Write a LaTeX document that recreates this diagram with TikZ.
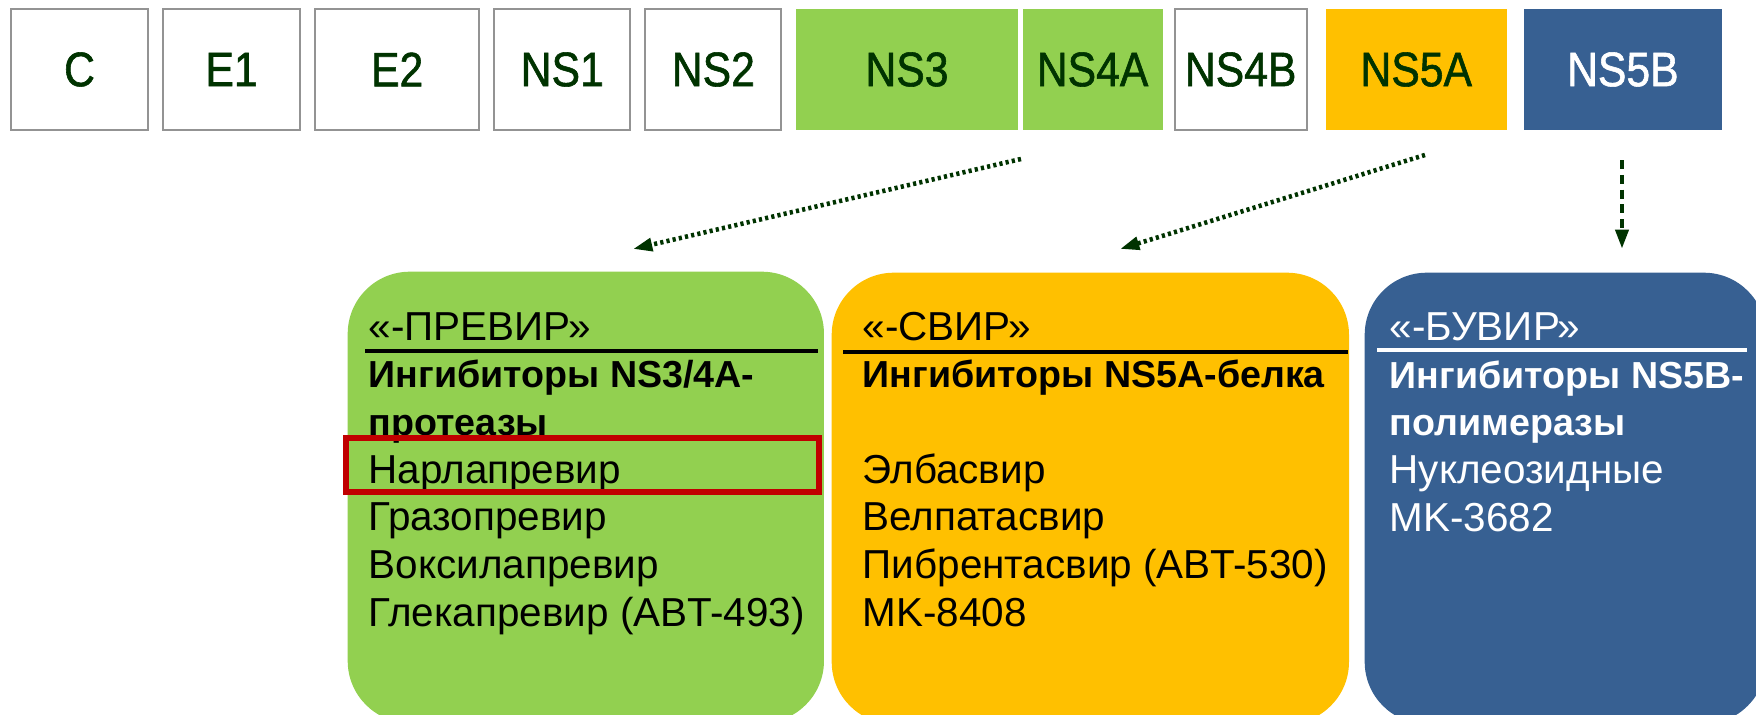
\documentclass[tikz,border=0pt]{standalone}
\usepackage{fontspec}
\setmainfont{Liberation Sans}
\newfontfamily\narrowfont[FakeStretch=0.88, FakeBold=1.2]{Liberation Sans}
\usetikzlibrary{positioning,arrows.meta}
\definecolor{leaf}{RGB}{146,208,80}
\definecolor{amber}{RGB}{255,192,0}
\definecolor{navy}{RGB}{55,96,146}
\definecolor{moss}{RGB}{0,51,0}
\definecolor{crimson}{RGB}{192,0,0}
\newcommand{\classhead}[1]{{\fontsize{10.7}{13.55}\selectfont\bfseries #1}}

\begin{document}
\begin{tikzpicture}[x=0.01cm, y=-0.01cm, node distance=0.15cm,
    gene/.style = {draw=gray!85, line width=0.6pt, fill=white, text=moss, minimum height=1.21cm, inner sep=0pt, outer sep=0pt, font=\narrowfont\fontsize{13.8}{15}\selectfont},
    family/.style = {rounded corners=0.62cm, minimum height=4.51cm, inner sep=0pt, anchor=north west},
    druglist/.style = {anchor=base west, align=left, inner sep=0pt, font=\fontsize{11.5}{13.55}\selectfont},
    rule/.style = {line width=1.1pt},
    pointer/.style = {moss, line width=1.3pt, dash pattern=on 0.9pt off 0.9pt, -{Triangle[length=5.5pt, width=3.6pt]}}]
    \useasboundingbox (0,0) rectangle (1756,715);
    \clip (0,0) rectangle (1756,715);
    % genome
    \node[gene, minimum width=1.37cm] (C) at (79.5,69.5) {C};
    \node[gene, minimum width=1.37cm, right=of C] (E1) {E1};
    \node[gene, minimum width=1.64cm, right=of E1] (E2) {E2};
    \node[gene, minimum width=1.36cm, right=of E2] (NS1) {NS1};
    \node[gene, minimum width=1.36cm, right=of NS1] (NS2) {NS2};
    \node[gene, draw=none, fill=leaf, minimum width=2.21cm, right=of NS2] (NS3) {NS3};
    \node[gene, draw=none, fill=leaf, minimum width=1.40cm, right=0.05cm of NS3] (NS4A) {NS4A};
    \node[gene, minimum width=1.32cm, right=0.12cm of NS4A] (NS4B) {NS4B};
    \node[gene, draw=none, fill=amber, minimum width=1.81cm, right=0.19cm of NS4B] (NS5A) {NS5A};
    \node[gene, draw=none, fill=navy, text=white, minimum width=1.98cm, right=0.17cm of NS5A] (NS5B) {NS5B};

    % drug classes
    \node[family, fill=leaf, minimum width=4.76cm] (PI) at (347,271) {};
    \node[family, fill=amber, minimum width=5.17cm] (SI) at (831,272) {};
    \node[family, fill=navy, minimum width=4.01cm] (BI) at (1364,272) {};

    % base sits on the last line
    \node[druglist] (PItext) at (368,626) {«-ПРЕВИР»\\ \classhead{Ингибиторы NS3/4A-}\\ \classhead{протеазы}\\ Нарлапревир\\ Гразопревир\\ Воксилапревир\\ Глекапревир (ABT-493)};
    \node[druglist] (SItext) at (862,626) {«-СВИР»\\ \classhead{Ингибиторы NS5A-белка}\\ ~\\ Элбасвир\\ Велпатасвир\\ Пибрентасвир (ABT-530)\\ MK-8408};
    \node[druglist, text=white] (BItext) at (1389,531) {«-БУВИР»\\ \classhead{Ингибиторы NS5B-}\\ \classhead{полимеразы}\\ Нуклеозидные\\ MK-3682};

    \draw[rule] (365,351) -- (818,351);
    \draw[rule] (843,352) -- (1348,352);
    \draw[rule, white] (1377,350) -- (1747,350);
    \draw[crimson, line width=1.8pt] (346,438) rectangle (819,492);

    % arrows
    \coordinate (s1) at (1021,159);
    \coordinate (t1) at (633,249);
    \coordinate (s2) at (1425,155);
    \coordinate (t2) at (1120,249);
    \coordinate (s3) at (1622,160);
    \coordinate (t3) at (1622,249);
    \draw[pointer] (s1) -- (t1);
    \draw[pointer] (s2) -- (t2);
    \draw[pointer, dash pattern=on 2.6pt off 1.6pt] (s3) -- (t3);
\end{tikzpicture}
\end{document}
